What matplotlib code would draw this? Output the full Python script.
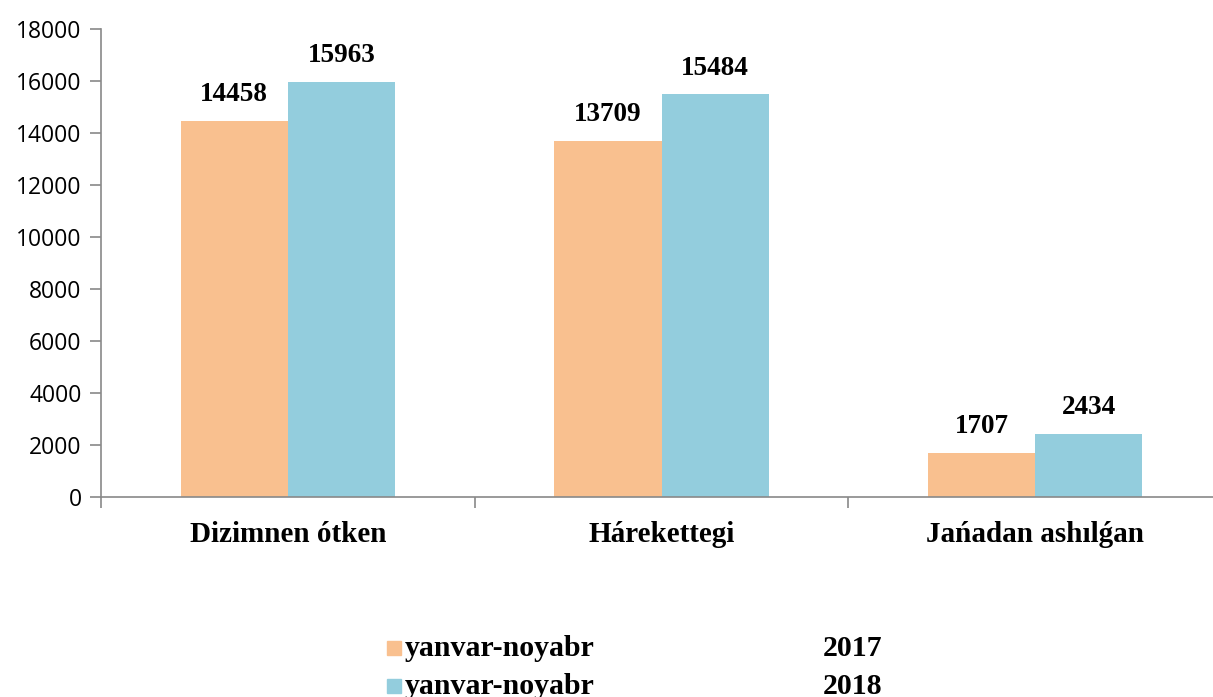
import matplotlib
matplotlib.use("Agg")
import matplotlib.pyplot as plt
import numpy as np

categories = ["Dizimnen ótken", "Hárekettegi", "Jańadan ashılǵan"]
series_names = ["yanvar-noyabr", "yanvar-noyabr"]
series_years = ["2017", "2018"]
values_2017 = [14458, 13709, 1707]
values_2018 = [15963, 15484, 2434]
yticks = [0, 2000, 4000, 6000, 8000, 10000, 12000, 14000, 16000, 18000]

c17 = "#F9C08F"
c18 = "#93CDDD"
axc = "#898989"

fig = plt.figure(figsize=(12.13, 6.97), dpi=100)
W, H = 1213, 697
ax = fig.add_axes([101 / W, 1 - 497 / H, (1213 - 101) / W, (497 - 29) / H])

x = np.arange(len(categories))
bw = 0.287
serif = ["Liberation Serif", "DejaVu Serif"]
b1 = ax.bar(x - bw / 2, values_2017, bw, color=c17, zorder=2)
b2 = ax.bar(x + bw / 2, values_2018, bw, color=c18, zorder=2)

for bars, vals in ((b1, values_2017), (b2, values_2018)):
    for b, v in zip(bars, vals):
        ax.annotate(str(v), (b.get_x() + b.get_width() / 2, v), xytext=(0, 10),
                    textcoords="offset points", ha="center", va="bottom",
                    fontsize=19.5, fontweight="bold", family=serif)

ax.set_ylim(0, 18000)
ax.set_xlim(-0.5, 2.5 - 9 / 373.6)
ax.set_yticks(yticks)
ax.set_yticklabels([str(t) for t in yticks], fontsize=16.5, family="Open Sans")
ax.tick_params(axis="y", direction="out", length=8, color=axc, width=1.2, pad=6)

ax.set_xticks([-0.5, 0.5, 1.5], minor=False)
ax.set_xticklabels([])
ax.tick_params(axis="x", direction="out", length=8, color=axc, width=1.2)
ax.set_xticks(x, minor=True)
ax.set_xticklabels(categories, minor=True, fontsize=21, fontweight="bold", family=serif)
ax.tick_params(axis="x", which="minor", length=0, pad=17)

for s in ["top", "right"]:
    ax.spines[s].set_visible(False)
for s in ["left", "bottom"]:
    ax.spines[s].set_color(axc)
    ax.spines[s].set_linewidth(1.2)

# legend
for i, (name, yr, col) in enumerate(zip(series_names, series_years, [c17, c18])):
    yc = 648 + i * 38
    fig.patches.append(plt.Rectangle((387 / W, 1 - (yc + 7) / H), 14 / W, 14 / H,
                                     transform=fig.transFigure, color=col, figure=fig))
    fig.text(405 / W, 1 - yc / H, name, fontsize=21.5, fontweight="bold", family=serif,
             va="center", ha="left")
    fig.text(882 / W, 1 - yc / H, yr, fontsize=21.5, fontweight="bold", family=serif,
             va="center", ha="right")

fig.savefig("out.png", dpi=100)
